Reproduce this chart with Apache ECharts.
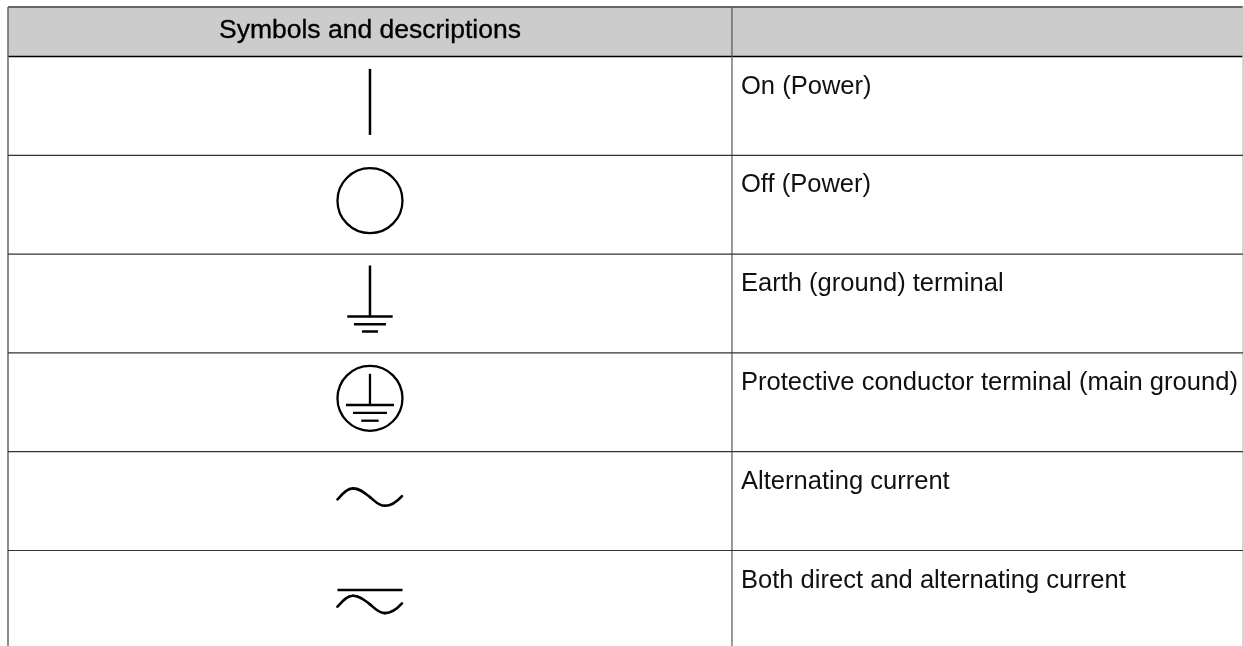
<!DOCTYPE html>
<html>
<head>
<meta charset="utf-8">
<title>Symbols and descriptions</title>
<script src="https://cdn.jsdelivr.net/npm/echarts@6/dist/echarts.min.js"></script>
<style>
    html, body { margin: 0; padding: 0; background: #fff; }
    #table { width: 1244px; height: 646px; }
</style>
</head>
<body>
<div id="table"></div>
<script>
// table content
let headers = ['Symbols and descriptions', ''];
let symbols = ['on', 'off', 'earth', 'protective', 'ac', 'both'];
let descriptions = [
    'On (Power)',
    'Off (Power)',
    'Earth (ground) terminal',
    'Protective conductor terminal (main ground)',
    'Alternating current',
    'Both direct and alternating current'
];

let font = '"Liberation Sans", Arial, sans-serif';
let ink = '#000';
let splitX = 0.5862;   // column divider, as a share of the table width

function seg(x1, y1, x2, y2, w) {
    return {
        type: 'line',
        shape: { x1: x1, y1: y1, x2: x2, y2: y2 },
        style: { stroke: ink, lineWidth: w || 2.5, fill: null }
    };
}

function ring(cx, cy, r) {
    return {
        type: 'circle',
        shape: { cx: cx, cy: cy, r: r },
        style: { stroke: ink, lineWidth: 2.3, fill: null }
    };
}

// one sine wave, four cubic pieces split at peak, middle and trough
function wave(cx, cy) {
    let part = function (x1, y1, a, b, c, d, x2, y2) {
        return {
            type: 'bezierCurve',
            shape: {
                x1: cx + x1, y1: cy + y1, x2: cx + x2, y2: cy + y2,
                cpx1: cx + a, cpy1: cy + b, cpx2: cx + c, cpy2: cy + d
            },
            style: { stroke: ink, lineWidth: 2.6, fill: null, lineCap: 'round' }
        };
    };
    return [
        part(-32.5, 2.3, -28, -2.5, -23.5, -8.7, -17, -8.7),
        part(-17, -8.7, -10, -8.7, -5.5, -4.2, 0, 0),
        part(0, 0, 5.5, 4.2, 8, 8.7, 15, 8.7),
        part(15, 8.7, 22, 8.7, 27.5, 4, 32, -1)
    ];
}

function drawSymbol(name, cx, cy) {
    if (name === 'on') {
        return [seg(cx, cy - 33, cx, cy + 33)];
    }
    if (name === 'off') {
        return [ring(cx, cy, 32.5)];
    }
    if (name === 'earth') {
        return [
            seg(cx, cy - 34, cx, cy + 17),
            seg(cx - 22.7, cy + 17, cx + 22.7, cy + 17),
            seg(cx - 16, cy + 24.7, cx + 16, cy + 24.7),
            seg(cx - 8, cy + 32, cx + 8, cy + 32)
        ];
    }
    if (name === 'protective') {
        return [
            ring(cx, cy, 32.5),
            seg(cx, cy - 24.5, cx, cy + 6.7, 2.3),
            seg(cx - 24, cy + 6.7, cx + 24, cy + 6.7, 2.3),
            seg(cx - 17, cy + 14.5, cx + 17, cy + 14.5, 2.3),
            seg(cx - 8.7, cy + 22.4, cx + 8.7, cy + 22.4, 2.3)
        ];
    }
    if (name === 'ac') {
        return wave(cx, cy);
    }
    return [seg(cx - 32.5, cy - 6, cx + 32.5, cy - 6)].concat(wave(cx, cy + 8.5));
}

function rule(api, x1, y1, x2, y2, color, w) {
    let a = api.coord([x1, y1]);
    let b = api.coord([x2, y2]);
    return {
        type: 'line',
        shape: { x1: a[0], y1: a[1], x2: b[0], y2: b[1] },
        style: { stroke: color, lineWidth: w, fill: null }
    };
}

// header band and the outer frame
function renderHeader(params, api) {
    let tl = api.coord([0, -0.5]);
    let br = api.coord([1, 0]);
    let mid = api.coord([splitX / 2, -0.25]);
    return {
        type: 'group',
        children: [
            {
                type: 'rect',
                shape: { x: tl[0], y: tl[1], width: br[0] - tl[0], height: br[1] - tl[1] },
                style: { fill: '#cccccc' }
            },
            rule(api, 0, -0.5, 1, -0.5, '#666', 2),
            rule(api, 0, 0, 1, 0, '#000', 1.6),
            rule(api, 0, -0.5, 0, 6, '#666', 1.5),
            rule(api, splitX, -0.5, splitX, 6, '#555', 1.2),
            rule(api, 1, -0.5, 1, 6, '#c8c8c8', 1.5),
            {
                type: 'text',
                style: {
                    text: headers[0], x: mid[0], y: mid[1] - 1,
                    align: 'center', verticalAlign: 'middle',
                    font: '500 26.5px ' + font, fill: '#000',
                    stroke: '#000', lineWidth: 0.35
                }
            }
        ]
    };
}

function renderRow(params, api) {
    let row = api.value(0);
    let c = api.coord([splitX / 2, row + 0.5]);
    let t = api.coord([splitX, row]);
    let children = drawSymbol(symbols[row], c[0], c[1] - 4);
    children.push({
        type: 'text',
        style: {
            text: descriptions[row], x: t[0] + 9, y: t[1] + 30,
            align: 'left', verticalAlign: 'middle',
            font: '25.55px ' + font, fill: '#111'
        }
    });
    if (row > 0) {
        children.push(rule(api, 0, row, 1, row, '#333', 1.2));
    }
    return { type: 'group', children: children };
}

let myChart = echarts.init(document.getElementById('table'));

let option = {
    animation: false,
    backgroundColor: '#fff',
    grid: { left: 8, top: 7.1, width: 1235, height: 642.2, outerBoundsMode: 'none' },
    xAxis: { type: 'value', min: 0, max: 1, show: false },
    yAxis: { type: 'value', min: -0.5, max: 6, inverse: true, show: false },
    series: [
        {
            type: 'custom',
            silent: true,
            clip: false,
            renderItem: renderHeader,
            encode: { x: 0, y: 1 },
            data: [[0, -0.5]]
        },
        {
            type: 'custom',
            silent: true,
            clip: false,
            renderItem: renderRow,
            encode: { y: 0 },
            data: descriptions.map(function (d, i) { return [i]; })
        }
    ]
};

myChart.setOption(option);
</script>
</body>
</html>
